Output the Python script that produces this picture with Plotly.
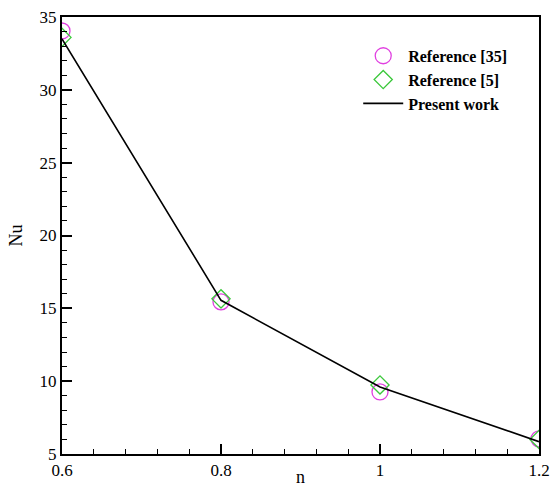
import plotly.graph_objects as go

n_vals = [0.6, 0.8, 1.0, 1.2]
ref35_nu = [34.04, 15.44, 9.26, 6.04]
ref5_nu = [33.6, 15.65, 9.74, 6.0]
present_nu = [33.5, 15.55, 9.6, 5.85]

x_ticks = [0.6, 0.8, 1.0, 1.2]
x_tick_text = ["0.6", "0.8", "1", "1.2"]
y_ticks = [5, 10, 15, 20, 25, 30, 35]

serif = "Liberation Serif"

fig = go.Figure()
fig.add_trace(go.Scatter(
    x=n_vals, y=ref35_nu, mode="markers", name="<b>Reference [35]</b>",
    marker=dict(symbol="circle-open", size=16, color="#e040e0", line=dict(width=1.3, color="#e040e0")),
))
fig.add_trace(go.Scatter(
    x=n_vals, y=ref5_nu, mode="markers", name="<b>Reference [5]</b>",
    marker=dict(symbol="diamond-open", size=14, color="#3cc83c", line=dict(width=1.3, color="#3cc83c")),
))
fig.add_trace(go.Scatter(
    x=n_vals, y=present_nu, mode="lines", name="<b>Present work</b>",
    line=dict(color="black", width=1.6),
))

fig.update_layout(
    width=550, height=487,
    margin=dict(l=62, r=11, t=17, b=33),
    paper_bgcolor="white", plot_bgcolor="white",
    font=dict(family=serif, size=16, color="black"),
    showlegend=True,
    legend=dict(
        x=0.621, y=0.95, xanchor="left", yanchor="top",
        bgcolor="rgba(0,0,0,0)", borderwidth=0,
        font=dict(family=serif, size=16, color="black"),
        tracegroupgap=0, itemwidth=40,
    ),
    xaxis=dict(
        range=[0.6, 1.2], tickmode="array", tickvals=x_ticks, ticktext=x_tick_text,
        ticks="inside", ticklen=10, tickwidth=1.5, tickcolor="black",
        showline=True, linecolor="black", linewidth=2, mirror=True,
        showgrid=False, zeroline=False, automargin=False,
        minor=dict(dtick=0.04, ticks="inside", ticklen=5, tickwidth=1, tickcolor="black", showgrid=False),
        title=dict(text="n", font=dict(family=serif, size=18), standoff=0),
        tickfont=dict(family=serif, size=17),
    ),
    yaxis=dict(
        range=[5, 35], tickmode="array", tickvals=y_ticks,
        ticks="inside", ticklen=10, tickwidth=1.5, tickcolor="black",
        showline=True, linecolor="black", linewidth=2, mirror=True,
        showgrid=False, zeroline=False, automargin=False,
        minor=dict(dtick=1, ticks="inside", ticklen=5, tickwidth=1, tickcolor="black", showgrid=False),
        title=dict(text="Nu", font=dict(family=serif, size=18), standoff=12),
        tickfont=dict(family=serif, size=17),
    ),
)

fig.write_html("out.html")
